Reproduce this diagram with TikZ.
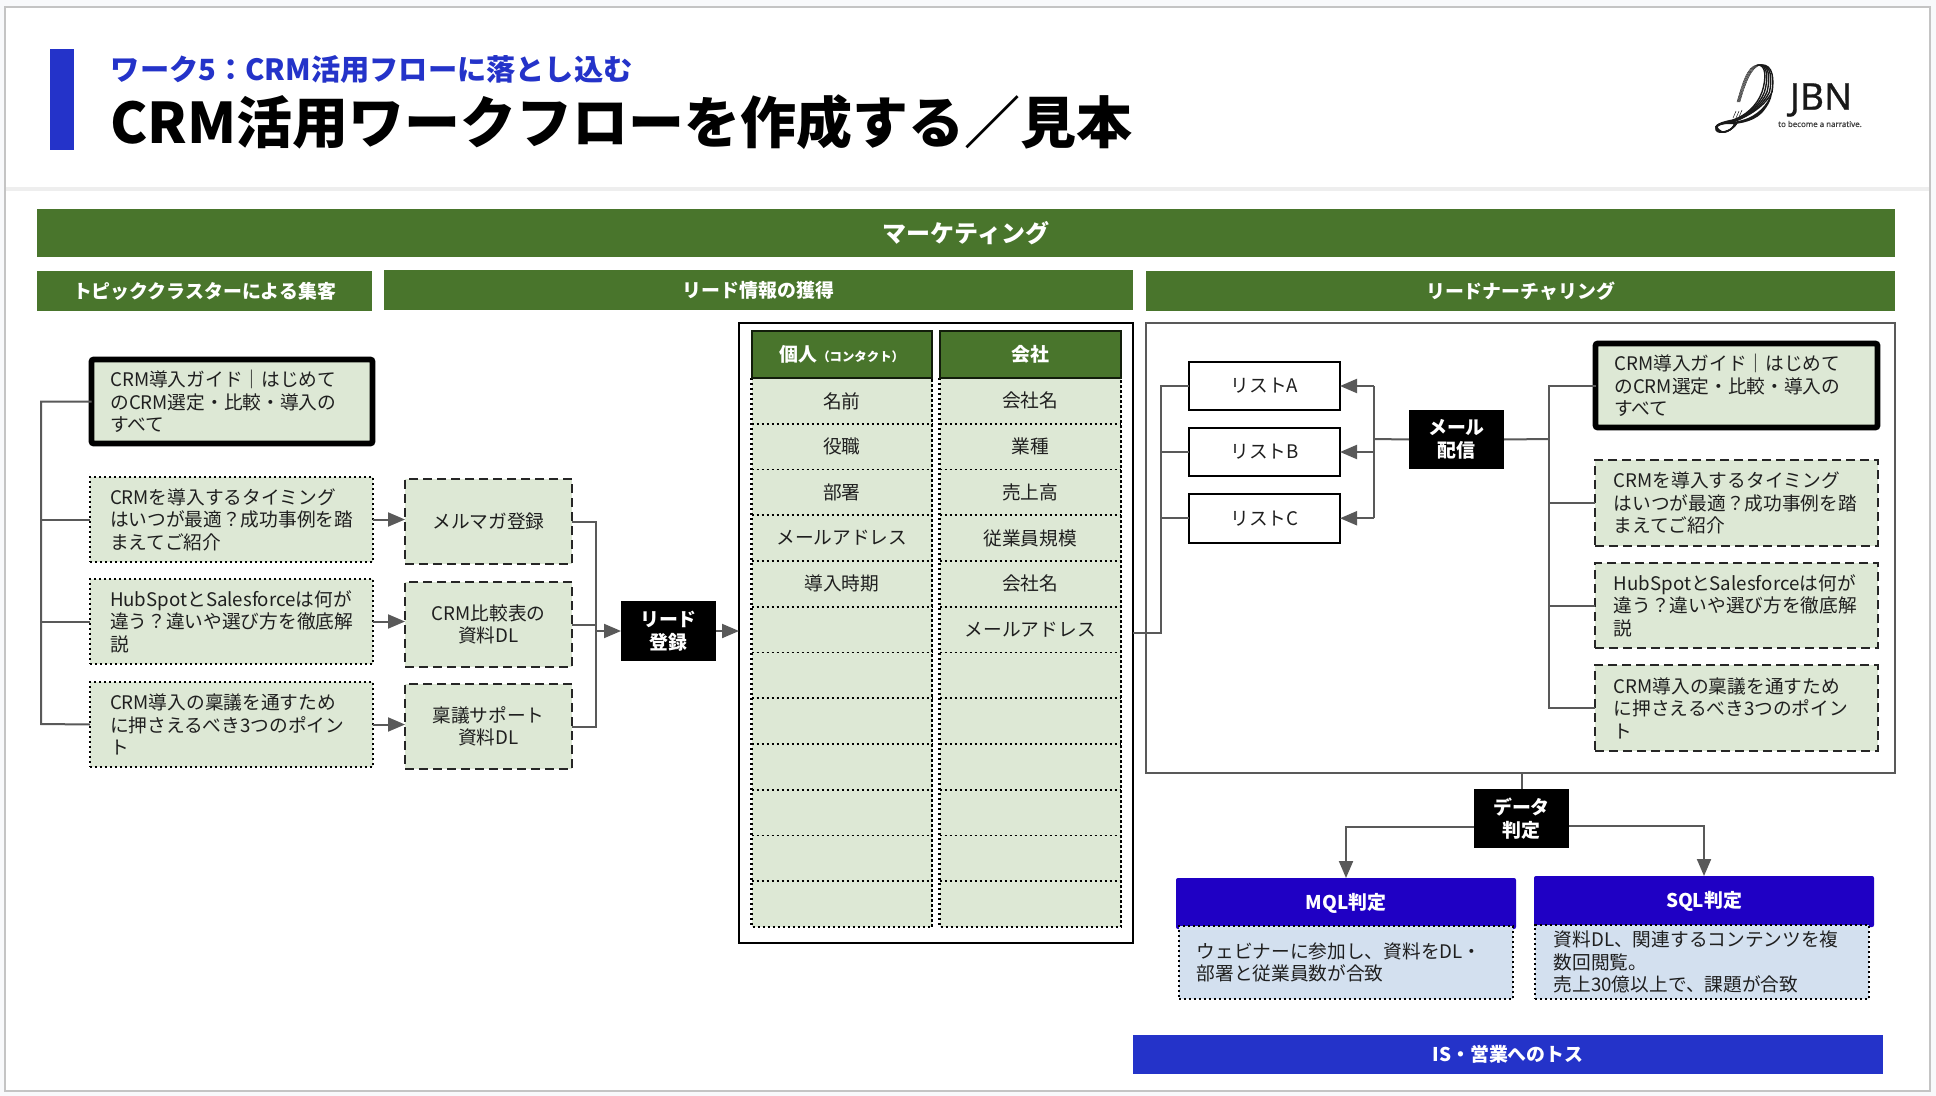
\documentclass[tikz,border=0pt]{standalone}
\usepackage{fontspec}
\setmainfont{Noto Sans CJK JP}
\newfontfamily\logofont[FakeBold=0.6]{Noto Sans}
\usetikzlibrary{arrows.meta,calc}
\definecolor{dgreen}{HTML}{49752C}
\definecolor{lgreen}{HTML}{DDE8D5}
\definecolor{mainblue}{HTML}{2433C9}
\definecolor{indigo}{HTML}{1F00C4}
\definecolor{lblue}{HTML}{D3E0EF}
\definecolor{connc}{HTML}{595959}
\definecolor{pagebg}{HTML}{F8F9FB}
\definecolor{framec}{HTML}{C4C4C4}
\definecolor{rulec}{HTML}{EEEEEE}
\newcommand\bodyfont{\fontsize{9.35}{11.25}\selectfont}
\newcommand\boldbody{\bfseries\fontsize{9.45}{11.25}\selectfont}
\def\padv{20}
\newcommand\bx[7]{%
  \pgfmathsetmacro\bxcx{(#3+#5)/2}%
  \pgfmathsetmacro\bxcy{(#4+#6)/2}%
  \pgfmathsetmacro\bxw{(#5-#3)*0.5}%
  \pgfmathsetmacro\bxh{(#6-#4)*0.5}%
  \node[#1,minimum width=\bxw pt,minimum height=\bxh pt] (#2) at (\bxcx,\bxcy) {#7};}
\newcommand\lx[7]{%
  \pgfmathsetmacro\bxcx{(#3+#5)/2}%
  \pgfmathsetmacro\bxcy{(#4+#6)/2}%
  \pgfmathsetmacro\bxw{(#5-#3)*0.5}%
  \pgfmathsetmacro\bxh{(#6-#4)*0.5}%
  \pgfmathsetmacro\bxtw{(#5-#3)*0.5-\padv}%
  \node[#1,minimum width=\bxw pt,minimum height=\bxh pt,text width=\bxtw pt] (#2) at (\bxcx,\bxcy) {#7};}
\tikzset{
  base/.style={inner sep=0pt,outer sep=0pt,font=\bodyfont,text=black!88,align=center},
  banner/.style={base,fill=dgreen,text=white,font=\boldbody},
  bigbanner/.style={banner,font=\bfseries\fontsize{12}{14}\selectfont},
  isbar/.style={banner,fill=mainblue},
  thickbox/.style={base,align=left,fill=lgreen,draw=black,line width=2.8pt,rounded corners=1pt},
  dotbox/.style={base,align=left,fill=lgreen,draw=black,line width=1.2pt,dash pattern=on 1.2pt off 1.3pt},
  dashbox/.style={base,fill=lgreen,draw=black!85,line width=1pt,dash pattern=on 4.5pt off 2.5pt},
  dashtext/.style={dashbox,align=left},
  blackbox/.style={base,fill=black,text=white,font=\boldbody},
  whitebox/.style={base,fill=white,draw=black,line width=1pt},
  frameblack/.style={base,draw=black,line width=1pt},
  framegray/.style={base,draw=connc,line width=1pt},
  colhead/.style={base,fill=dgreen,draw=black!75!dgreen,line width=1pt,text=white,font=\boldbody},
  cell/.style={base,fill=lgreen},
  cellrule/.style={draw=black,line width=.9pt,dash pattern=on 1pt off 1.5pt},
  cellside/.style={draw=black,line width=1.2pt,dash pattern=on 1.2pt off 1.3pt},
  judge/.style={base,fill=indigo,text=white,rounded corners=1pt,font=\boldbody},
  descbox/.style={base,align=left,fill=lblue,draw=black,line width=1.2pt,dash pattern=on 1.2pt off 1.3pt},
  conn/.style={draw=connc,line width=1pt},
  arr/.style={conn,-{Triangle[length=8.5pt,width=7pt]}},
  logoline/.style={line cap=round,draw=black!90},
  subtitle/.style={inner sep=0pt,anchor=west,text=mainblue,font=\bfseries\fontsize{14.6}{18}\selectfont},
  title/.style={inner sep=0pt,anchor=west,text=black,font=\bfseries\fontsize{28}{34}\selectfont}
}
\begin{document}
\begin{tikzpicture}[x=0.5pt,y=-0.5pt]
\useasboundingbox (0,0) rectangle (1936,1096);
% slide
\fill[pagebg] (0,0) rectangle (1936,1096);
\draw[draw=framec,fill=white,line width=1pt] (5,7) rectangle (1930,1091);
\fill[rulec] (6,187) rectangle (1929,191);
\fill[mainblue] (50,49) rectangle (74,150);
\node[subtitle] (sub) at (110.5,69) {ワーク5：CRM活用フローに落とし込む};
\node[title] (ttl) at (110,122) {CRM活用ワークフローを作成する／見本};
% logo
\foreach \d in {0,1,2,3,4}{
  \draw[logoline,line width=.22pt] (1737+.7*\d,102) .. controls (1742+.7*\d,85) and (1747+\d,66) .. (1757+\d,65);
  \draw[logoline,line width=.7pt] (1757+\d,65)
     .. controls (1767+1.6*\d,64) and (1766+2*\d,80) .. (1762+2.5*\d,92)
     .. controls (1757+2*\d,106) and (1745+\d,116) .. (1733,120+.5*\d);
  \draw[logoline,line width=.65pt] (1733,120+.5*\d)
     .. controls (1722,122+.5*\d) and (1713,125) .. (1716+.8*\d,130)
     .. controls (1718+\d,135) and (1733,131) .. (1737-.6*\d,123);
}
\draw[logoline,line width=.25pt] (1733,118) -- (1736,111);
\draw[logoline,line width=.25pt] (1736,118) -- (1739,111);
\draw[logoline,line width=.25pt] (1739,117) -- (1742,110);
\fill[black!90] (1772,88) .. controls (1771,101) and (1760,113) .. (1748,118)
  .. controls (1741,121) and (1733,122) .. (1722,124)
  .. controls (1735,125) and (1752,123) .. (1762,113)
  .. controls (1768,106) and (1773,98) .. (1772,88) -- cycle;
\node[inner sep=0pt,font=\logofont\fontsize{18.5}{20}\selectfont,text=black!90] (jbn) at (1821,100) {JBN};
\node[inner sep=0pt,font=\logofont\bfseries\fontsize{3.95}{5}\selectfont,text=black!75] (tag) at (1820,124) {to become a narrative.};
% banners
\bx{bigbanner}{mkt}{37}{209}{1895}{257}{マーケティング}
\bx{banner}{h1}{37}{271}{372}{311}{トピッククラスターによる集客}
\bx{banner}{h2}{384}{270}{1133}{310}{リード情報の獲得}
\bx{banner}{h3}{1146}{271}{1895}{311}{リードナーチャリング}
% left column
\def\padv{18.8}
\lx{thickbox}{g0}{91.5}{359.5}{372.5}{443.5}{CRM導入ガイド｜はじめて\\のCRM選定・比較・導入の\\すべて}
\def\padv{20}
\lx{dotbox}{a1}{90}{477}{373}{562}{CRMを導入するタイミング\\はいつが最適？成功事例を踏\\まえてご紹介}
\lx{dotbox}{a2}{90}{579}{373}{664}{HubSpotとSalesforceは何が\\違う？違いや選び方を徹底解\\説}
\lx{dotbox}{a3}{90}{682}{373}{767}{CRM導入の稟議を通すため\\に押さえるべき3つのポイン\\ト}
\bx{dashbox}{m1}{405}{479}{572}{564}{メルマガ登録}
\bx{dashbox}{m2}{405}{582}{572}{667}{CRM比較表の\\資料DL}
\bx{dashbox}{m3}{405}{684}{572}{769}{稟議サポート\\資料DL}
\bx{blackbox}{lead}{621}{601}{716}{661}{リード\\登録}
% left connectors
\coordinate (ltrunk) at (41,724);
\draw[conn] (g0.west) -| (ltrunk) -- (a3.west);
\draw[conn] (a1.west) -- (a1.west -| ltrunk);
\draw[conn] (a2.west) -- (a2.west -| ltrunk);
\draw[arr] (a1.east) -- (a1.east -| m1.west);
\draw[arr] (a2.east) -- (a2.east -| m2.west);
\draw[arr] (a3.east) -- (a3.east -| m3.west);
\coordinate (ctrunk) at (596,631);
\draw[conn] (m1.east) -| (ctrunk) |- (m3.east);
\draw[conn] (m2.east) -- (m2.east -| ctrunk);
\draw[arr] (ctrunk) -- (lead.west);
% table
\bx{frameblack}{tbl}{739}{323.5}{1133}{943}{}
\draw[arr] (lead.east) -- (lead.east -| tbl.west);
\foreach \i/\pa/\co in {0/名前/会社名,1/役職/業種,2/部署/売上高,3/メールアドレス/従業員規模,4/導入時期/会社名,5//メールアドレス,6//,7//,8//,9//,10//,11//}{
  \pgfmathsetmacro\yt{378+45.75*\i}
  \pgfmathsetmacro\yb{378+45.75*(\i+1)}
  \bx{cell}{pa\i}{751.5}{\yt}{932}{\yb}{\pa}
  \bx{cell}{co\i}{939.5}{\yt}{1121}{\yb}{\co}
}
\foreach \i in {0,...,10}{
  \draw[cellrule] (pa\i.south west) -- (pa\i.south east);
  \draw[cellrule] (co\i.south west) -- (co\i.south east);
}
\draw[cellside] (pa0.north west) -- (pa11.south west) -- (pa11.south east) -- (pa0.north east);
\draw[cellside] (co0.north west) -- (co11.south west) -- (co11.south east) -- (co0.north east);
\bx{colhead}{ph}{751.5}{331.5}{932}{378}{個人{\bfseries\fontsize{6.2}{7}\selectfont （コンタクト）}}
\bx{colhead}{ch}{939.5}{331.5}{1121}{378}{会社}
% nurture frame
\bx{framegray}{nur}{1146}{323.5}{1895}{773}{}
\bx{whitebox}{la}{1189}{362}{1340}{410}{リストA}
\bx{whitebox}{lb}{1189}{428}{1340}{476}{リストB}
\bx{whitebox}{lc}{1189}{494}{1340}{542.5}{リストC}
\bx{blackbox}{mail}{1409}{410}{1504}{469}{メール\\配信}
\def\padv{18.8}
\lx{thickbox}{r0}{1595.5}{343.5}{1877.5}{427.5}{CRM導入ガイド｜はじめて\\のCRM選定・比較・導入の\\すべて}
\lx{dashtext}{r1}{1595}{460}{1878}{546}{CRMを導入するタイミング\\はいつが最適？成功事例を踏\\まえてご紹介}
\lx{dashtext}{r2}{1595}{563}{1878}{648}{HubSpotとSalesforceは何が\\違う？違いや選び方を徹底解\\説}
\lx{dashtext}{r3}{1595}{665}{1878}{751}{CRM導入の稟議を通すため\\に押さえるべき3つのポイン\\ト}
% nurture connectors
\coordinate (ltr) at (1161,633);
\draw[conn] (la.west) -| (ltr) -- (tbl.east |- ltr);
\draw[conn] (lb.west) -- (lb.west -| ltr);
\draw[conn] (lc.west) -- (lc.west -| ltr);
\coordinate (mtr) at (1374,439);
\draw[conn] (la.east -| mtr) -- (lc.east -| mtr);
\draw[conn] (mail.west) -- (mtr);
\draw[arr] (la.east -| mtr) -- (la.east);
\draw[arr] (lb.east -| mtr) -- (lb.east);
\draw[arr] (lc.east -| mtr) -- (lc.east);
\coordinate (rtr) at (1549,439);
\draw[conn] (mail.east) -- (rtr);
\draw[conn] (r0.west) -| (rtr) |- (r3.west);
\draw[conn] (r1.west) -- (r1.west -| rtr);
\draw[conn] (r2.west) -- (r2.west -| rtr);
% judgement
\bx{blackbox}{data}{1474}{789}{1569}{848}{データ\\判定}
\draw[conn] (nur.south -| data.north) -- (data.north);
\bx{judge}{mql}{1176}{878}{1516}{929}{\raisebox{-.6pt}{MQL判定}}
\bx{judge}{sql}{1534}{876}{1874}{927}{\raisebox{-.8pt}{SQL判定}}
\def\padv{17.6}
\lx{descbox}{dm}{1179}{926}{1513}{999}{ウェビナーに参加し、資料をDL・\\部署と従業員数が合致}
\def\padv{18.8}
\lx{descbox}{ds}{1535}{925}{1869}{999}{資料DL、関連するコンテンツを複\\数回閲覧。\\売上30億以上で、課題が合致}
\coordinate (dl) at (1474,827);
\coordinate (dr) at (1569,826);
\draw[arr] (dl) -| (mql.north);
\draw[arr] (dr) -| (sql.north);
\bx{isbar}{toss}{1133}{1035}{1883}{1074}{IS・営業へのトス}
\end{tikzpicture}
\end{document}
